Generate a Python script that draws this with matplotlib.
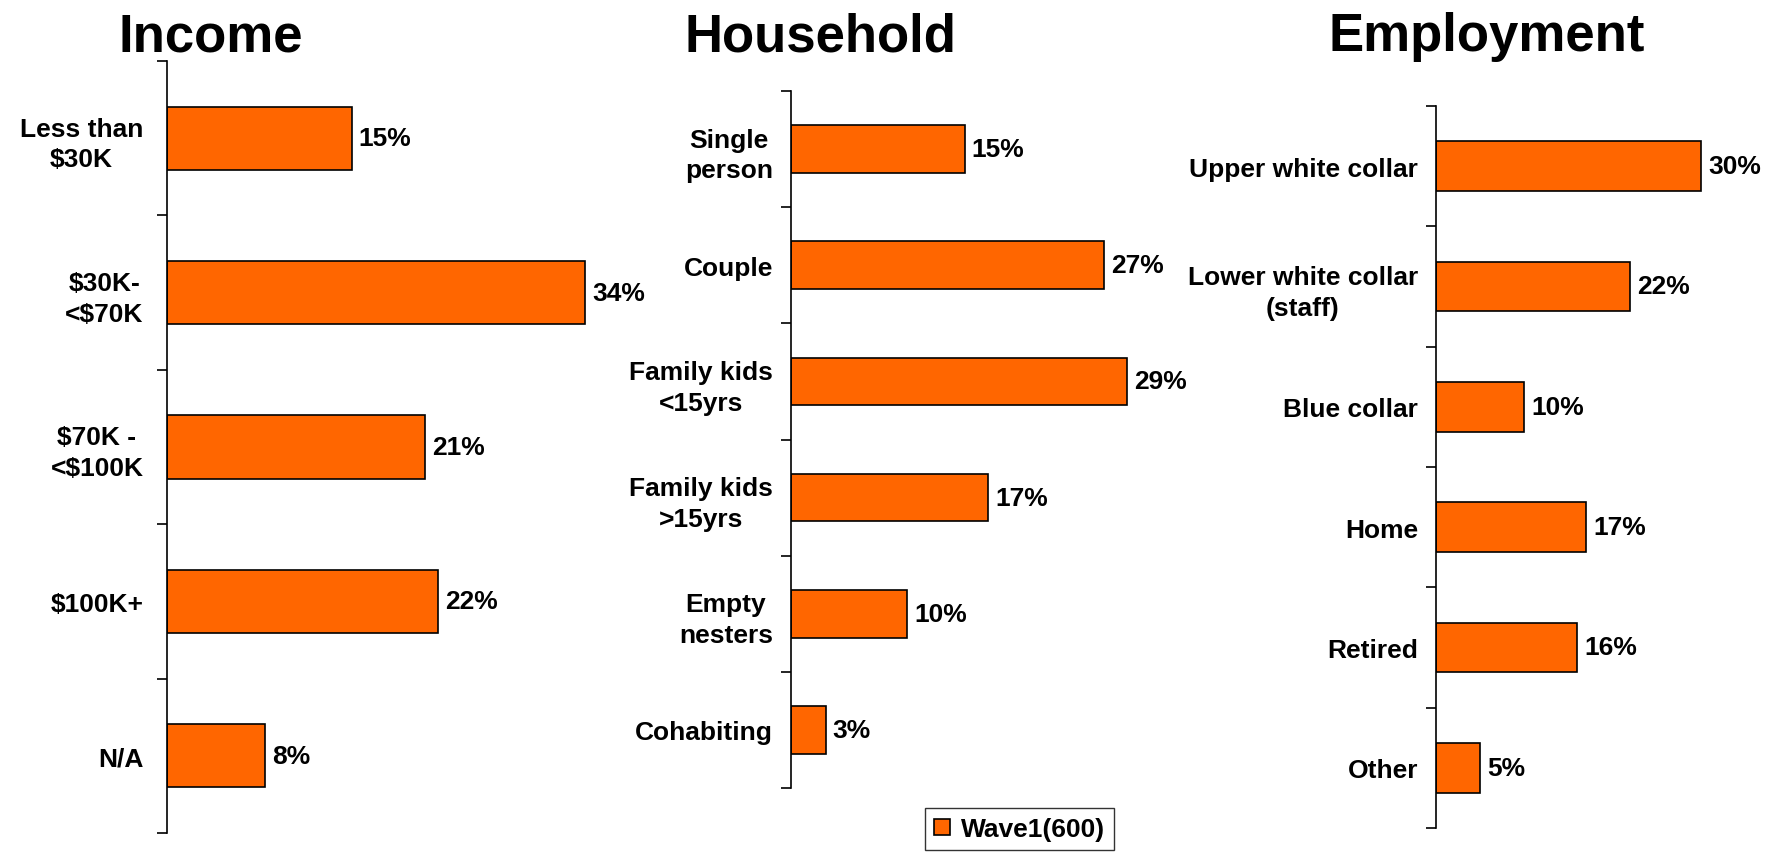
import numpy as np
import matplotlib.pyplot as plt
from matplotlib.patches import Patch

plt.rcParams['font.family'] = ['Liberation Sans', 'DejaVu Sans']
plt.rcParams['font.weight'] = 'bold'

# datos de cada panel
income_labels = ["Less than\n$30K", "$30K-\n<$70K", "$70K -\n<$100K", "$100K+", "N/A"]
income_values = [15, 34, 21, 22, 8]

household_labels = ["Single\nperson", "Couple", "Family kids\n<15yrs", "Family kids\n>15yrs",
                    "Empty\nnesters", "Cohabiting"]
household_values = [15, 27, 29, 17, 10, 3]

employment_labels = ["Upper white collar", "Lower white collar\n(staff)", "Blue collar",
                     "Home", "Retired", "Other"]
employment_values = [30, 22, 10, 17, 16, 5]

serie = "Wave1(600)"
naranja = "#FF6600"

W, H = 1780, 853
fig = plt.figure(figsize=(W / 100, H / 100), dpi=100)


def panel(rect_px, etiquetas, valores, xmax, titulo, titulo_x, pad):
    """Dibuja un panel de barras horizontales; rect_px = (x0, y_top, ancho, y_bottom) en pixeles"""
    x0, ytop, ancho, ybot = rect_px
    ax = fig.add_axes([x0 / W, 1 - ybot / H, ancho / W, (ybot - ytop) / H])
    ax.patch.set_visible(False)
    n = len(valores)
    pos = np.arange(n)
    ax.barh(pos, valores, height=0.41, color=naranja, edgecolor='black', linewidth=1.2)
    for p, v in zip(pos, valores):
        ax.annotate(f"{v}%", (v, p), xytext=(5, 0), textcoords='offset points',
                    va='center', ha='left', fontsize=19, fontweight='bold')
    ax.set_xlim(0, xmax)
    ax.set_ylim(n - 0.5, -0.5)
    # marcas en los limites de cada categoria, etiquetas en el centro
    ax.set_yticks(np.arange(n + 1) - 0.5)
    ax.set_yticklabels([])
    ax.set_yticks(pos, minor=True)
    ax.set_yticklabels(etiquetas, minor=True, fontsize=19, fontweight='bold')
    for lab in ax.get_yticklabels(minor=True):
        lab.set_multialignment('center')
        lab.set_linespacing(1.35)
    ax.tick_params(axis='y', which='major', length=7, width=1.2, direction='out')
    ax.tick_params(axis='y', which='minor', length=0, pad=pad)
    ax.set_xticks([])
    for lado in ['top', 'right', 'bottom']:
        ax.spines[lado].set_visible(False)
    ax.spines['left'].set_linewidth(1.2)
    fig.text(titulo_x / W, 1 - 51 / H, titulo, ha='center', va='baseline',
             fontsize=38, fontweight='bold')
    return ax


panel((167, 62, 443, 834), income_labels, income_values, 36, "Income", 211, 17)
panel((791, 92, 371, 789), household_labels, household_values, 32, "Household", 821, 13)
panel((1436, 107, 318, 829), employment_labels, employment_values, 36, "Employment", 1487, 13)

handle = Patch(facecolor=naranja, edgecolor='black', linewidth=1.2)
fig.legend([handle], [serie], loc='upper left', bbox_to_anchor=(925 / W, 1 - 809 / H),
           fontsize=19, frameon=True, fancybox=False, edgecolor='black',
           handlelength=0.6, handleheight=0.6, handletextpad=0.4, borderpad=0.35,
           borderaxespad=0)

fig.savefig("out.png", dpi=100)
